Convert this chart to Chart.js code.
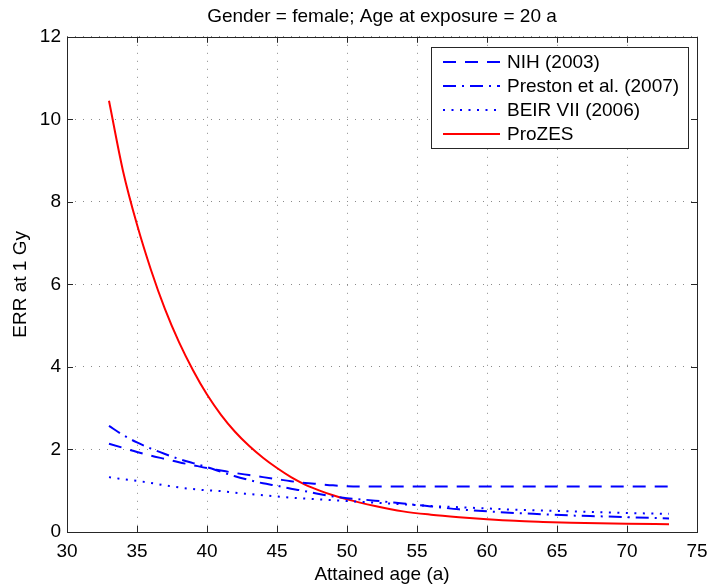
<!DOCTYPE html>
<html>
<head>
<meta charset="utf-8">
<script src="https://cdn.jsdelivr.net/npm/chart.js@4.4.1/dist/chart.umd.min.js"></script>
<style>
  html, body { margin: 0; padding: 0; background: #fff; }
  #wrap { width: 707px; height: 587px; }
</style>
</head>
<body>
<div id="wrap"><canvas id="c"></canvas></div>
<script>
// ERR bei 1 Gy, Frauen, Expositionsalter 20 a
var AGES    = [33, 34, 35, 36, 37, 38, 39, 40, 41, 42, 43, 44, 45, 46, 47, 48, 49, 50, 52, 54, 56, 58, 60, 62, 64, 66, 68, 70, 73];
var NIH     = [2.14, 2.04, 1.94, 1.85, 1.77, 1.69, 1.62, 1.55, 1.49, 1.43, 1.38, 1.33, 1.28, 1.23, 1.19, 1.16, 1.13, 1.11, 1.10, 1.10, 1.10, 1.10, 1.10, 1.10, 1.10, 1.10, 1.10, 1.10, 1.10];
var PRESTON = [2.57, 2.35, 2.17, 2.02, 1.89, 1.77, 1.67, 1.57, 1.46, 1.35, 1.26, 1.18, 1.12, 1.05, 0.99, 0.92, 0.86, 0.82, 0.76, 0.69, 0.62, 0.55, 0.50, 0.46, 0.43, 0.40, 0.38, 0.36, 0.33];
var BEIR    = [1.33, 1.28, 1.24, 1.19, 1.13, 1.08, 1.04, 1.01, 0.99, 0.95, 0.92, 0.89, 0.86, 0.83, 0.81, 0.79, 0.77, 0.75, 0.71, 0.67, 0.63, 0.60, 0.57, 0.54, 0.52, 0.50, 0.48, 0.46, 0.44];
var PROZES  = [10.45, 8.75, 7.45, 6.35, 5.40, 4.60, 3.92, 3.33, 2.84, 2.43, 2.09, 1.80, 1.55, 1.33, 1.15, 1.01, 0.89, 0.79, 0.63, 0.50, 0.42, 0.36, 0.31, 0.27, 0.245, 0.225, 0.21, 0.20, 0.19];

var SERIES = ['NIH (2003)', 'Preston et al. (2007)', 'BEIR VII (2006)', 'ProZES'];
var X_TICKS = [30, 35, 40, 45, 50, 55, 60, 65, 70, 75];
var Y_TICKS = [0, 2, 4, 6, 8, 10, 12];

var FAMILY = '"Liberation Sans", Arial, Helvetica, sans-serif';
var FS = 19;

function pts(vals) {
  return AGES.map(function (a, i) { return { x: a, y: vals[i] }; });
}

// Rahmen mit nach innen zeigenden Ticks (MATLAB-Stil)
var frame = {
  id: 'frame',
  afterDatasetsDraw: function (chart) {
    var ctx = chart.ctx, a = chart.chartArea, sx = chart.scales.x, sy = chart.scales.y, tl = 6;
    ctx.save();
    ctx.strokeStyle = '#262626';
    ctx.lineWidth = 1;
    ctx.setLineDash([]);
    ctx.strokeRect(Math.round(a.left) + 0.5, Math.round(a.top) + 0.5, Math.round(a.right - a.left), Math.round(a.bottom - a.top));
    ctx.beginPath();
    X_TICKS.forEach(function (v) {
      var px = Math.round(sx.getPixelForValue(v)) + 0.5;
      ctx.moveTo(px, a.bottom); ctx.lineTo(px, a.bottom - tl);
      ctx.moveTo(px, a.top); ctx.lineTo(px, a.top + tl);
    });
    Y_TICKS.forEach(function (v) {
      var py = Math.round(sy.getPixelForValue(v)) + 0.5;
      ctx.moveTo(a.left, py); ctx.lineTo(a.left + tl, py);
      ctx.moveTo(a.right, py); ctx.lineTo(a.right - tl, py);
    });
    ctx.stroke();
    ctx.restore();
  }
};

// Legende im Kasten oben rechts
var boxLegend = {
  id: 'boxLegend',
  afterDraw: function (chart) {
    var ctx = chart.ctx, a = chart.chartArea, ds = chart.data.datasets;
    ctx.save();
    ctx.font = FS + 'px ' + FAMILY;
    var maxW = 0;
    ds.forEach(function (d) { maxW = Math.max(maxW, ctx.measureText(d.label).width); });
    var padL = 12, sample = 57, gap = 7, padR = 9, rowH = 24;
    var w = Math.round(padL + sample + gap + maxW + padR), h = 101;
    var right = Math.round(a.right) - 9, top = Math.round(a.top) + 10, left = right - w;
    ctx.fillStyle = '#fff';
    ctx.fillRect(left, top, w, h);
    ctx.strokeStyle = '#262626';
    ctx.lineWidth = 1;
    ctx.strokeRect(left + 0.5, top + 0.5, w, h);
    ds.forEach(function (d, i) {
      var y = top + 15 + i * rowH;
      ctx.strokeStyle = d.borderColor;
      ctx.lineWidth = d.borderWidth;
      ctx.setLineDash(d.borderDash || []);
      ctx.beginPath();
      ctx.moveTo(left + padL, y); ctx.lineTo(left + padL + sample, y);
      ctx.stroke();
      ctx.setLineDash([]);
      ctx.fillStyle = '#000';
      ctx.textBaseline = 'middle';
      ctx.textAlign = 'left';
      ctx.fillText(d.label, left + padL + sample + gap, y + 1);
    });
    ctx.restore();
  }
};

function line(label, vals, color, dash) {
  return {
    label: label, data: pts(vals), borderColor: color, backgroundColor: color,
    borderWidth: 2, borderDash: dash, pointRadius: 0, fill: false,
    cubicInterpolationMode: 'monotone'
  };
}

new Chart(document.getElementById('c').getContext('2d'), {
  type: 'line',
  data: {
    datasets: [
      line(SERIES[0], NIH, '#0000ff', [13, 9]),
      line(SERIES[1], PRESTON, '#0000ff', [13, 6, 2, 6]),
      line(SERIES[2], BEIR, '#0000ff', [2, 6.5]),
      line(SERIES[3], PROZES, '#ff0000', [])
    ]
  },
  options: {
    responsive: true, maintainAspectRatio: false, animation: false,
    layout: { padding: { left: 0, right: 0, top: 0, bottom: 0 } },
    plugins: {
      legend: { display: false },
      tooltip: { enabled: false },
      title: {
        display: true, fullSize: false, text: 'Gender = female; Age at exposure = 20 a', color: '#000',
        font: { family: FAMILY, size: FS, weight: 'normal' }, padding: { top: 5, bottom: 9 }
      }
    },
    scales: {
      x: {
        type: 'linear', min: 30, max: 75,
        afterBuildTicks: function (s) { s.ticks = X_TICKS.map(function (v) { return { value: v }; }); },
        afterFit: function (s) { s.height = 55; s.paddingLeft = 0; s.paddingRight = 10; },
        ticks: { color: '#000', font: { family: FAMILY, size: FS }, padding: 8, maxRotation: 0 },
        grid: { color: '#8a8a8a', lineWidth: 1, drawTicks: false },
        border: { display: false, dash: [1, 7] },
        title: { display: true, text: 'Attained age (a)', color: '#000', font: { family: FAMILY, size: FS }, padding: { top: 0, bottom: 1 } }
      },
      y: {
        min: 0, max: 12,
        afterBuildTicks: function (s) { s.ticks = Y_TICKS.map(function (v) { return { value: v }; }); },
        afterFit: function (s) { s.width = 67; },
        ticks: { color: '#000', font: { family: FAMILY, size: FS }, padding: 6 },
        grid: { color: '#8a8a8a', lineWidth: 1, drawTicks: false },
        border: { display: false, dash: [1, 7] },
        title: { display: true, text: 'ERR at 1 Gy', color: '#000', font: { family: FAMILY, size: FS }, padding: { top: 9, bottom: 0 } }
      }
    }
  },
  plugins: [frame, boxLegend]
});
</script>
</body>
</html>
